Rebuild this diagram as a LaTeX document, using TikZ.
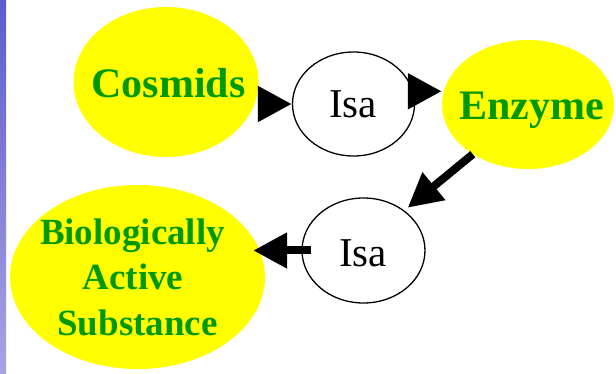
\documentclass[tikz,border=0pt]{standalone}
\usepackage{fontspec}
\setmainfont{Liberation Serif}
\usetikzlibrary{shapes.geometric,arrows.meta}

\definecolor{conceptfill}{RGB}{255,255,0}
\definecolor{concepttext}{RGB}{0,153,0}
\definecolor{stripTop}{RGB}{92,92,208}
\definecolor{stripBottom}{RGB}{168,164,226}

\tikzset{
  concept/.style={ellipse, fill=conceptfill, draw=none, inner sep=0pt},
  relation/.style={ellipse, draw=black, line width=1.3pt, fill=white, inner sep=0pt},
  ctext/.style={text=concepttext, font=\fontsize{42}{48}\selectfont\bfseries, anchor=base, inner sep=0pt},
  btext/.style={text=concepttext, font=\fontsize{37}{45}\selectfont\bfseries, anchor=base, inner sep=0pt},
  rtext/.style={text=black, font=\fontsize{41}{48}\selectfont, anchor=base, inner sep=0pt},
  link/.style={line width=8pt, draw=black, -{Triangle[length=34pt,width=34pt]}}
}

\begin{document}
\begin{tikzpicture}[x=1pt, y=-1pt]
  \useasboundingbox (0,0) rectangle (616,374);

  % side strip
  \shade[top color=stripTop, bottom color=stripBottom] (0,0) rectangle (6,374);

  % concepts
  \node[concept, minimum width=185pt, minimum height=150pt] (cosmids) at (166,82) {};
  \node[concept, minimum width=172pt, minimum height=129pt] (enzyme) at (528,104.5) {};
  \node[concept, minimum width=255pt, minimum height=184pt] (bio) at (137.5,277) {};

  % relations
  \node[relation, minimum width=122pt, minimum height=104pt] (isa1) at (353.5,104) {};
  \node[relation, minimum width=123pt, minimum height=105pt] (isa2) at (363.5,250.5) {};

  % labels
  \node[ctext] (cosmidsT) at (168.5,98) {Cosmids};
  \node[ctext] (enzymeT) at (531.5,120) {Enzyme};
  \node[btext] (bioT1) at (132.5,245) {Biologically};
  \node[btext] (bioT2) at (133,290) {Active};
  \node[btext] (bioT3) at (137.5,335) {Substance};
  \node[rtext] (isa1T) at (353,118) {Isa};
  \node[rtext] (isa2T) at (363,266) {Isa};

  % links
  \draw[link] (isa1.west -| cosmids.east) -- (isa1.west);
  \draw[link] (isa1.12) -- (isa1.12 -| enzyme.west);
  \draw[link] (enzyme.222) -- ([shift={(3,-3)}]isa2.44);
  \draw[link] ([shift={(10,0)}]isa2.west) -- ([shift={(-12,0)}]isa2.west -| bio.east);
\end{tikzpicture}
\end{document}
